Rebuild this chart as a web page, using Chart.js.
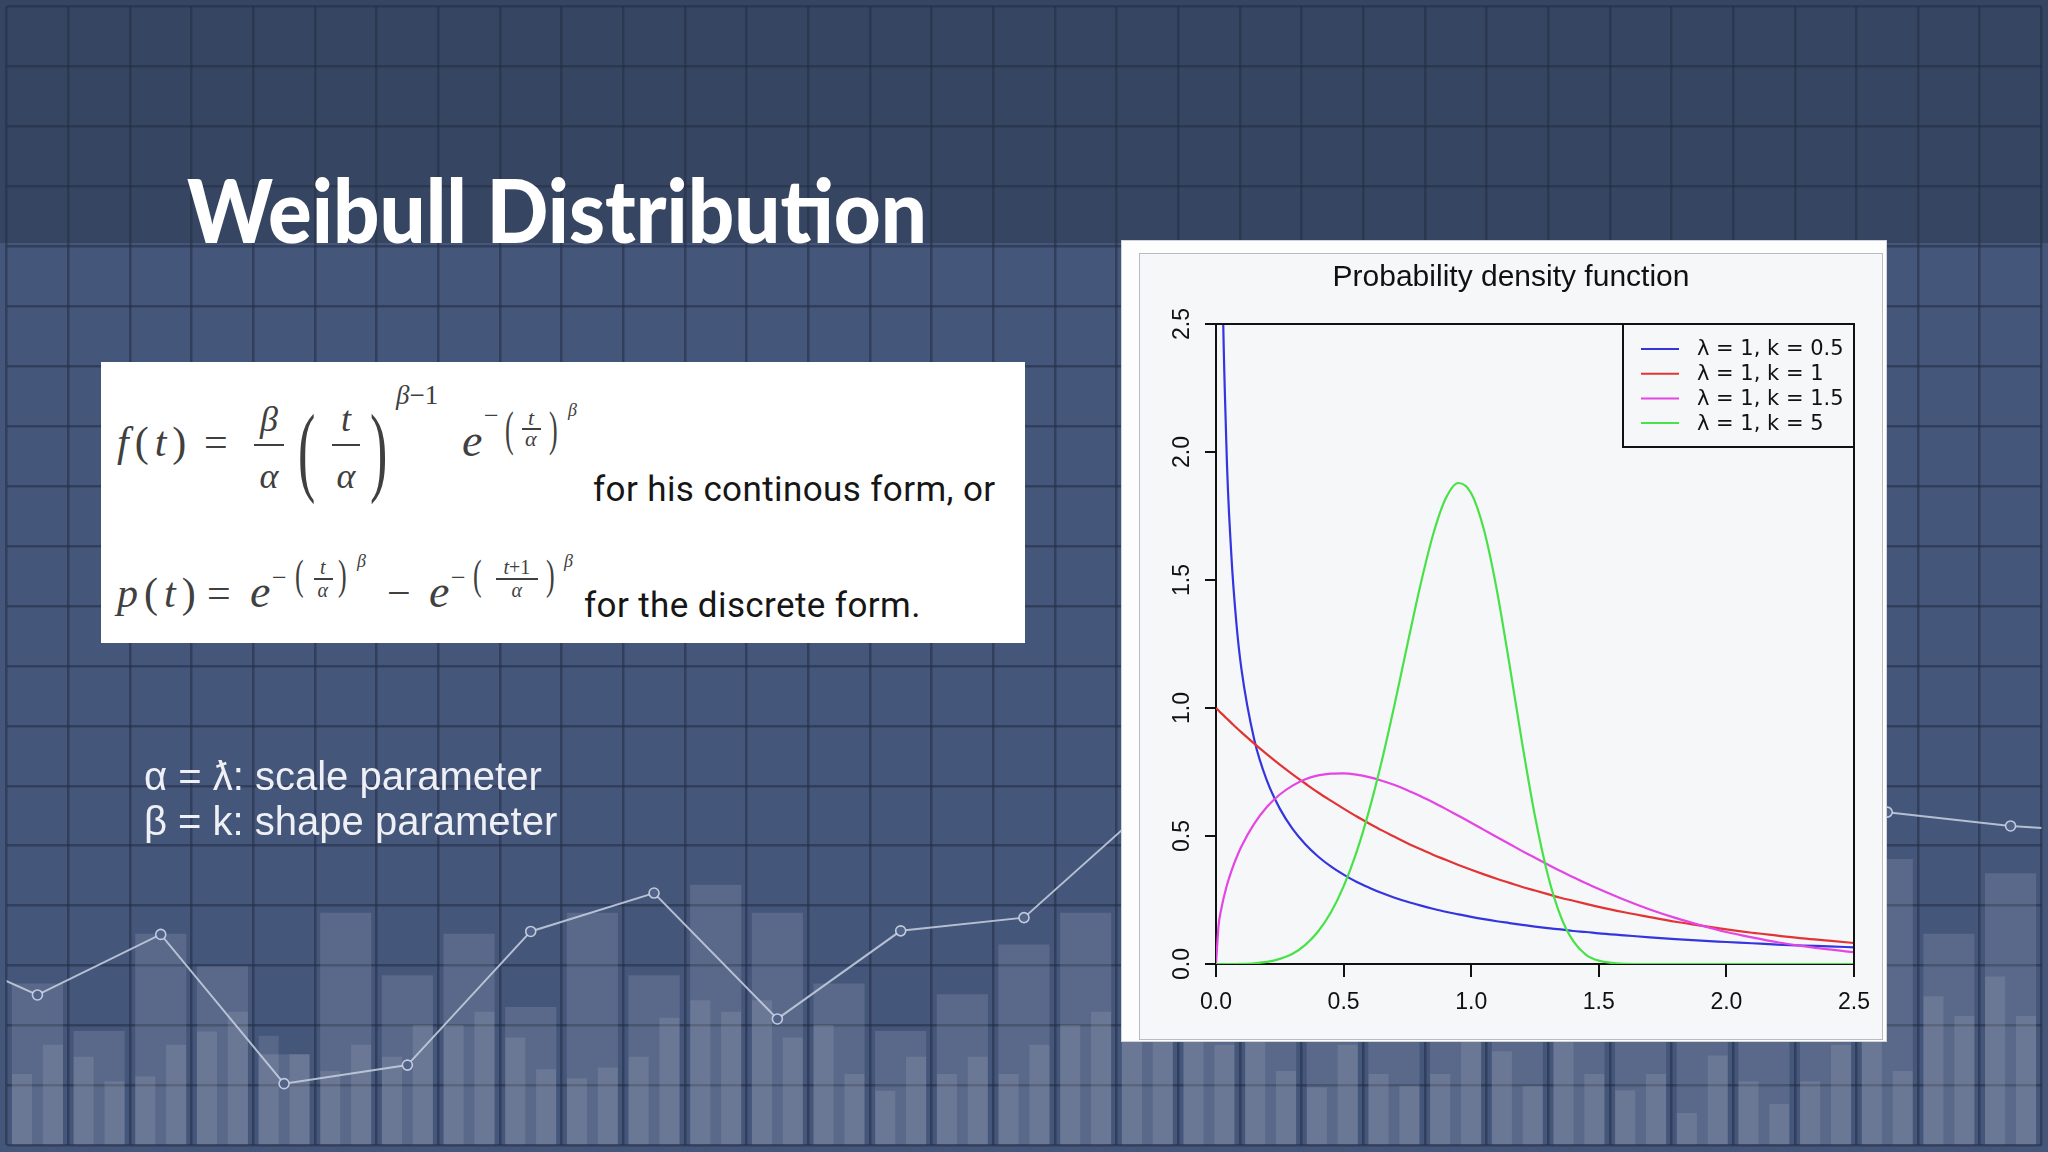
<!DOCTYPE html>
<html>
<head>
<meta charset="utf-8">
<title>Weibull Distribution</title>
<script src="https://cdn.jsdelivr.net/npm/chart.js@4/dist/chart.umd.min.js"></script>
<style>
    html, body { margin: 0; padding: 0; }
    body {
        width: 2048px; height: 1152px; position: relative; overflow: hidden;
        background: linear-gradient(to bottom, #364561 0, #364561 243px, #45567b 243px, #45567b 100%);
    }
    #bg-wrap { position: absolute; left: 0; top: 0; width: 2048px; height: 1152px; }
    .t { position: absolute; left: 0; top: 0; white-space: pre; line-height: 1; }
    .m { font-family: "Liberation Serif", serif; color: #404040; }
    .bar { position: absolute; background: #404040; height: 2px; }
    #formula-box { position: absolute; left: 101px; top: 362px; width: 924px; height: 281px; background: #fff; }
    #panel { position: absolute; left: 1121px; top: 240px; width: 766px; height: 802px; background: #fdfdfe; box-sizing: border-box; border: 1px solid #cfd3da; }
    #inner { position: absolute; left: 1139px; top: 253px; width: 744px; height: 787px; background: #f6f7f9; box-sizing: border-box; border: 1px solid #b7bbc3; }
    #pdf-wrap { position: absolute; left: 1139px; top: 253px; width: 744px; height: 787px; }
</style>
</head>
<body>

<div id="bg-wrap"><canvas id="bgChart"></canvas></div>

<div class="t" id="title" data-x="187" data-b="243" data-w="740" style="font: 900 88px Lato, sans-serif; color: #fff;">Weibull Distribution</div>

<div id="formula-box"></div>

<!-- continuous form -->
<div class="t m" data-x="117" data-b="456" style="font-size: 42px; letter-spacing: 6px;"><i>f</i>(<i>t</i>)</div>
<div class="t m" data-x="204" data-b="456" style="font-size: 42px;">=</div>
<div class="t m" data-c="269" data-b="431" style="font-size: 36px;"><i>β</i></div>
<div class="bar" style="left: 254px; top: 444px; width: 30px;"></div>
<div class="t m" data-c="269" data-b="488" style="font-size: 36px;"><i>α</i></div>
<div class="t m" data-x="298" data-cy="450" data-sx="1.3" data-sy="2.5" style="font-size: 40px;">(</div>
<div class="t m" data-c="346" data-b="431" style="font-size: 36px;"><i>t</i></div>
<div class="bar" style="left: 332px; top: 444px; width: 28px;"></div>
<div class="t m" data-c="346" data-b="488" style="font-size: 36px;"><i>α</i></div>
<div class="t m" data-x="370" data-cy="450" data-sx="1.3" data-sy="2.5" style="font-size: 40px;">)</div>
<div class="t m" data-x="396" data-b="404" style="font-size: 27px;"><i>β</i>−1</div>
<div class="t m" data-x="462" data-b="456" style="font-size: 46px;"><i>e</i></div>
<div class="t m" data-x="484" data-b="424" style="font-size: 26px;">−</div>
<div class="t m" data-x="505" data-cy="430" data-sy="1.85" style="font-size: 26px;">(</div>
<div class="t m" data-c="531" data-b="425" style="font-size: 22px;"><i>t</i></div>
<div class="bar" style="left: 522px; top: 428px; width: 19px; height: 1.5px;"></div>
<div class="t m" data-c="531" data-b="446" style="font-size: 22px;"><i>α</i></div>
<div class="t m" data-x="549" data-cy="430" data-sy="1.85" style="font-size: 26px;">)</div>
<div class="t m" data-x="568" data-b="416" style="font-size: 18px;"><i>β</i></div>
<div class="t" data-x="593" data-b="501" style="font: 35px Roboto, sans-serif; letter-spacing: 0.4px; color: #161616;">for his continous form, or</div>

<!-- discrete form -->
<div class="t m" data-x="117" data-b="607" style="font-size: 42px; letter-spacing: 6px;"><i>p</i>(<i>t</i>)</div>
<div class="t m" data-x="207" data-b="607" style="font-size: 42px;">=</div>
<div class="t m" data-x="250" data-b="607" style="font-size: 46px;"><i>e</i></div>
<div class="t m" data-x="272" data-b="586" style="font-size: 26px;">−</div>
<div class="t m" data-x="295" data-cy="576" data-sy="1.6" style="font-size: 26px;">(</div>
<div class="t m" data-c="323" data-b="574" style="font-size: 20px;"><i>t</i></div>
<div class="bar" style="left: 314px; top: 578px; width: 19px; height: 1.5px;"></div>
<div class="t m" data-c="323" data-b="597" style="font-size: 20px;"><i>α</i></div>
<div class="t m" data-x="338" data-cy="576" data-sy="1.6" style="font-size: 26px;">)</div>
<div class="t m" data-x="357" data-b="567" style="font-size: 18px;"><i>β</i></div>
<div class="t m" data-x="387" data-b="607" style="font-size: 42px;">−</div>
<div class="t m" data-x="429" data-b="607" style="font-size: 46px;"><i>e</i></div>
<div class="t m" data-x="451" data-b="586" style="font-size: 26px;">−</div>
<div class="t m" data-x="473" data-cy="576" data-sy="1.6" style="font-size: 26px;">(</div>
<div class="t m" data-c="517" data-b="574" style="font-size: 20px;"><i>t</i>+1</div>
<div class="bar" style="left: 496px; top: 578px; width: 42px; height: 1.5px;"></div>
<div class="t m" data-c="517" data-b="597" style="font-size: 20px;"><i>α</i></div>
<div class="t m" data-x="546" data-cy="576" data-sy="1.6" style="font-size: 26px;">)</div>
<div class="t m" data-x="564" data-b="567" style="font-size: 18px;"><i>β</i></div>
<div class="t" data-x="584" data-b="617" style="font: 35px Roboto, sans-serif; letter-spacing: 0.4px; color: #161616;">for the discrete form.</div>

<!-- parameter notes -->
<div class="t" data-x="144" data-b="790" style="font: 40px 'Liberation Sans', sans-serif; color: #eef0f5;">α = ƛ: scale parameter</div>
<div class="t" data-x="144" data-b="835" style="font: 40px 'Liberation Sans', sans-serif; color: #eef0f5;">β = k: shape parameter</div>

<div id="panel"></div>
<div id="inner"></div>
<div id="pdf-wrap"><canvas id="pdfChart"></canvas></div>

<script>
// Weibull pdf curves (lambda = 1)
const xValues = [0, 0.01, 0.02, 0.04, 0.06, 0.08, 0.1,
    0.15, 0.2, 0.25, 0.3, 0.35, 0.4, 0.45, 0.5, 0.55, 0.6, 0.65, 0.7, 0.75, 0.8,
    0.85, 0.9, 0.95, 1.0, 1.05, 1.1, 1.15, 1.2, 1.25, 1.3, 1.35, 1.4, 1.45, 1.5,
    1.6, 1.7, 1.8, 1.9, 2.0, 2.1, 2.2, 2.3, 2.4, 2.5];
const kHalf = [null, 4.52, 3.07, 2.05, 1.60, 1.33, 1.15,
    0.876, 0.715, 0.607, 0.528, 0.468, 0.420, 0.381, 0.349, 0.321, 0.298, 0.277, 0.259, 0.243, 0.229,
    0.216, 0.204, 0.194, 0.184, 0.175, 0.167, 0.160, 0.153, 0.146, 0.140, 0.135, 0.129, 0.125, 0.120,
    0.112, 0.104, 0.097, 0.091, 0.086, 0.081, 0.076, 0.072, 0.069, 0.065];
const kOne = [1.000, 0.990, 0.980, 0.961, 0.942, 0.923, 0.905,
    0.861, 0.819, 0.779, 0.741, 0.705, 0.670, 0.638, 0.607, 0.577, 0.549, 0.522, 0.497, 0.472, 0.449,
    0.427, 0.407, 0.387, 0.368, 0.350, 0.333, 0.317, 0.301, 0.287, 0.273, 0.259, 0.247, 0.235, 0.223,
    0.202, 0.183, 0.165, 0.150, 0.135, 0.122, 0.111, 0.100, 0.091, 0.082];
const kOneHalf = [0, 0.150, 0.212, 0.298, 0.362, 0.415, 0.460,
    0.548, 0.614, 0.662, 0.697, 0.722, 0.737, 0.744, 0.745, 0.740, 0.730, 0.716, 0.699, 0.679, 0.656,
    0.632, 0.606, 0.579, 0.552, 0.524, 0.496, 0.469, 0.441, 0.415, 0.389, 0.363, 0.339, 0.315, 0.293,
    0.251, 0.213, 0.180, 0.151, 0.125, 0.104, 0.085, 0.070, 0.057, 0.046];
const kFive = [0, 0, 0, 0, 0, 0, 0.0005,
    0.003, 0.008, 0.020, 0.040, 0.075, 0.127, 0.201, 0.303, 0.435, 0.600, 0.795, 1.015, 1.248, 1.476,
    1.675, 1.818, 1.879, 1.839, 1.696, 1.463, 1.170, 0.861, 0.577, 0.349, 0.188, 0.089, 0.036, 0.013,
    0.001, 0, 0, 0, 0, 0, 0, 0, 0, 0];
const seriesLabels = ['λ = 1, k = 0.5', 'λ = 1, k = 1', 'λ = 1, k = 1.5', 'λ = 1, k = 5'];
const seriesColors = ['#3535e0', '#e23434', '#e445e4', '#48e248'];
const axisTicks = [0, 0.5, 1.0, 1.5, 2.0, 2.5];

// Decorative slide background: grid cells, bar heights and trend line (in grid rows)
const gridCols = 33;
const gridRows = 19;
const wideBars = [2.70, 1.91, 3.53, 2.99, 1.52, 3.88, 2.84, 3.53, 2.31, 3.88, 2.84,
    4.35, 3.88, 2.70, 1.91, 2.52, 3.35, 3.88, 3.5, 4.2, 3.0, 3.8,
    2.9, 4.0, 3.3, 3.7, 2.8, 3.6, 4.1, 3.2, 4.78, 3.53, 4.54];
const narrowBars = [1.19, 1.68, 1.48, 1.07, 1.15, 1.68, 1.90, 2.23, 1.83, 1.52,
    1.24, 1.68, 1.48, 2.01, 2.01, 2.23, 1.80, 1.27, 1.12, 1.30,
    1.48, 2.13, 2.42, 2.23, 2.42, 1.80, 2.01, 1.19, 0.91, 1.48,
    1.19, 1.48, 1.19, 1.68, 2.01, 2.23, 1.9, 2.2, 2.0, 1.68,
    2.1, 1.24, 0.97, 1.68, 1.19, 0.99, 1.19, 2.0, 1.57, 0.99,
    1.9, 1.19, 0.92, 1.19, 0.54, 1.50, 1.07, 0.69, 1.07, 1.68,
    1.9, 1.24, 2.49, 2.16, 2.82, 2.16];
const trendX = [-1.5, 0.5, 2.5, 4.5, 6.5, 8.5, 10.5, 12.5, 14.5, 16.5,
    18.5, 20.5, 22.5, 24.5, 26.5, 28.5, 30.5, 32.5, 34.5];
const trendY = [3.43, 2.51, 3.52, 1.03, 1.34, 3.57, 4.21, 2.11, 3.58, 3.80,
    5.64, 5.1, 6.0, 4.9, 6.3, 5.8, 5.56, 5.33, 5.2];

Chart.defaults.font.family = 'Liberation Sans';

// Function to position slide texts by their baseline
function placeTexts() {
    document.querySelectorAll('.t').forEach(el => {
        const probe = document.createElement('span');
        probe.style.cssText = 'display:inline-block;width:0;height:0;vertical-align:baseline;';
        el.appendChild(probe);
        const d = el.dataset;
        const w = el.offsetWidth;
        const h = el.offsetHeight;
        const left = d.c !== undefined ? +d.c - w / 2 : +d.x;
        const top = d.cy !== undefined ? +d.cy - h / 2 : +d.b - probe.offsetTop;
        el.style.left = left + 'px';
        el.style.top = top + 'px';
        if (d.w) {
            el.style.transformOrigin = 'left center';
            el.style.transform = 'scaleX(' + (+d.w / w) + ')';
        }
        if (d.sy) {
            el.style.transformOrigin = 'left center';
            el.style.transform = 'scale(' + (d.sx || 1) + ', ' + d.sy + ')';
        }
    });
}

// Function to draw the background bars and line
function initBackgroundChart() {
    const gridStyle = { color: 'rgba(34, 45, 67, 0.55)', lineWidth: 2.5, drawTicks: false, offset: false };
    const hiddenAxis = { display: false, offset: true, ticks: { display: false }, grid: { display: false } };
    new Chart(document.getElementById('bgChart'), {
        type: 'bar',
        data: {
            datasets: [{
                type: 'line',
                data: trendX.map((x, i) => ({ x: x, y: trendY[i] })),
                xAxisID: 'x',
                borderColor: 'rgba(200, 209, 226, 0.85)',
                borderWidth: 2,
                pointRadius: 5,
                pointBorderWidth: 1.6,
                pointBorderColor: 'rgba(205, 214, 230, 0.9)',
                pointBackgroundColor: '#52638a',
                tension: 0,
                order: 0
            }, {
                data: narrowBars,
                xAxisID: 'xNarrow',
                grouped: false,
                backgroundColor: 'rgba(255, 255, 255, 0.10)',
                barPercentage: 0.65,
                categoryPercentage: 1,
                order: 1
            }, {
                data: wideBars,
                xAxisID: 'xWide',
                grouped: false,
                backgroundColor: 'rgba(255, 255, 255, 0.115)',
                barPercentage: 0.83,
                categoryPercentage: 1,
                order: 2
            }]
        },
        options: {
            responsive: true,
            maintainAspectRatio: false,
            animation: false,
            events: [],
            layout: { padding: 0 },
            plugins: { legend: { display: false }, tooltip: { enabled: false } },
            scales: {
                x: {
                    type: 'linear', min: 0, max: gridCols, offset: false,
                    ticks: { display: false, stepSize: 1, maxTicksLimit: 100 },
                    grid: gridStyle, border: { display: false },
                    afterFit: s => { s.height = 0; s.paddingLeft = 0; s.paddingRight = 0; }
                },
                xWide: Object.assign({ type: 'category', labels: wideBars.map((v, i) => 'c' + i),
                    afterFit: s => { s.height = 0; s.paddingLeft = 0; s.paddingRight = 0; } }, hiddenAxis),
                xNarrow: Object.assign({ type: 'category', labels: narrowBars.map((v, i) => 'h' + i),
                    afterFit: s => { s.height = 0; s.paddingLeft = 0; s.paddingRight = 0; } }, hiddenAxis),
                y: {
                    min: 0, max: gridRows, beginAtZero: true,
                    ticks: { display: false, stepSize: 1, maxTicksLimit: 100 },
                    grid: gridStyle, border: { display: false },
                    afterFit: s => { s.width = 0; s.paddingTop = 0; s.paddingBottom = 0; }
                }
            }
        }
    });
}

// Plot box (top and right edges) like base R
const plotBox = {
    id: 'plotBox',
    afterDatasetsDraw(chart) {
        const { ctx, chartArea: a } = chart;
        ctx.save();
        ctx.strokeStyle = '#111';
        ctx.lineWidth = 2;
        ctx.beginPath();
        ctx.moveTo(a.left, a.top);
        ctx.lineTo(a.right, a.top);
        ctx.lineTo(a.right, a.bottom);
        ctx.stroke();
        ctx.restore();
    }
};

// Legend box in the top right corner of the plot
const innerLegend = {
    id: 'innerLegend',
    afterDatasetsDraw(chart) {
        const { ctx, chartArea: a } = chart;
        const w = 231, h = 123;
        const left = a.right - w, top = a.top;
        ctx.save();
        ctx.fillStyle = '#f6f7f9';
        ctx.fillRect(left, top, w, h);
        ctx.strokeStyle = '#111';
        ctx.lineWidth = 2;
        ctx.strokeRect(left, top, w, h);
        ctx.font = '21px "DejaVu Sans"';
        ctx.textBaseline = 'middle';
        chart.data.datasets.forEach((ds, i) => {
            const y = top + 25 + i * 24.7;
            ctx.strokeStyle = ds.borderColor;
            ctx.lineWidth = 2;
            ctx.beginPath();
            ctx.moveTo(left + 18, y);
            ctx.lineTo(left + 56, y);
            ctx.stroke();
            ctx.fillStyle = '#111';
            ctx.fillText(ds.label, left + 74, y + 1);
        });
        ctx.restore();
    }
};

// Function to initialize the density chart
function initPdfChart() {
    const values = [kHalf, kOne, kOneHalf, kFive];
    const tickFont = { family: 'Liberation Sans', size: 23 };
    new Chart(document.getElementById('pdfChart'), {
        type: 'line',
        data: {
            datasets: seriesLabels.map((label, i) => ({
                label: label,
                data: xValues.map((x, j) => ({ x: x, y: values[i][j] })),
                borderColor: seriesColors[i],
                borderWidth: 2.2,
                pointRadius: 0,
                fill: false,
                cubicInterpolationMode: 'monotone',
                order: 4 - i
            }))
        },
        options: {
            responsive: true,
            maintainAspectRatio: false,
            animation: false,
            events: [],
            layout: { padding: { left: 29, right: 29, top: 0, bottom: 0 } },
            plugins: {
                legend: { display: false },
                tooltip: { enabled: false },
                title: {
                    display: true,
                    text: 'Probability density function',
                    color: '#111',
                    font: { family: 'Liberation Sans', size: 30, weight: 'normal' },
                    padding: { top: 6.5, bottom: 28.5 }
                }
            },
            scales: {
                x: {
                    type: 'linear',
                    min: axisTicks[0],
                    max: axisTicks[axisTicks.length - 1],
                    afterBuildTicks: s => { s.ticks = axisTicks.map(v => ({ value: v })); },
                    ticks: { callback: v => v.toFixed(1), color: '#111', font: tickFont, padding: 12, maxRotation: 0 },
                    grid: { drawOnChartArea: false, tickLength: 13, color: '#111', lineWidth: 2 },
                    border: { color: '#111', width: 2 },
                    afterFit: s => { s.height = 76; }
                },
                y: {
                    min: axisTicks[0],
                    max: axisTicks[axisTicks.length - 1],
                    afterBuildTicks: s => { s.ticks = axisTicks.map(v => ({ value: v })); },
                    ticks: {
                        callback: v => v.toFixed(1), color: '#111', font: tickFont,
                        minRotation: 90, maxRotation: 90, crossAlign: 'center', padding: 6
                    },
                    grid: { drawOnChartArea: false, tickLength: 11, color: '#111', lineWidth: 2 },
                    border: { color: '#111', width: 2 },
                    afterFit: s => { s.width = 48; }
                }
            }
        },
        plugins: [plotBox, innerLegend]
    });
}

placeTexts();
initBackgroundChart();
initPdfChart();
</script>
</body>
</html>
